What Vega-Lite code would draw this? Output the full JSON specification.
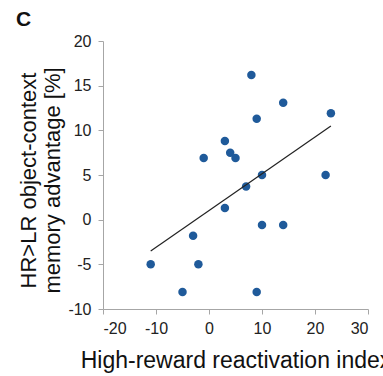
{
  "$schema": "https://vega.github.io/schema/vega-lite/v6.json",
  "width": 265,
  "height": 268,
  "autosize": {"type": "none"},
  "padding": {"left": 103, "top": 41, "right": 15, "bottom": 67},
  "background": "white",
  "title": {"text": "C", "anchor": "start", "frame": "group", "dx": -87, "offset": 3, "fontSize": 21, "fontWeight": "bold", "font": "Liberation Sans", "color": "#111111"},
  "config": {
    "view": {"stroke": null},
    "axis": {"grid": false, "domainColor": "#a6a6a6", "tickColor": "#a6a6a6", "tickSize": 5, "labelFont": "Liberation Sans", "labelFontSize": 16, "labelColor": "#222222", "titleFont": "Liberation Sans", "titleFontWeight": "normal", "titleColor": "#111111"}
  },
  "data": {"values": [
    {"x": -11, "y": -5}, {"x": -5, "y": -8.1}, {"x": -3, "y": -1.8}, {"x": -2, "y": -5},
    {"x": -1, "y": 6.9}, {"x": 3, "y": 8.8}, {"x": 3, "y": 1.3}, {"x": 4, "y": 7.5},
    {"x": 5, "y": 6.9}, {"x": 7, "y": 3.7}, {"x": 8, "y": 16.2}, {"x": 9, "y": 11.3},
    {"x": 9, "y": -8.1}, {"x": 10, "y": 5}, {"x": 10, "y": -0.6}, {"x": 14, "y": 13.1},
    {"x": 14, "y": -0.6}, {"x": 22, "y": 5}, {"x": 23, "y": 11.9}
  ]},
  "encoding": {
    "x": {"field": "x", "type": "quantitative", "scale": {"domain": [-20, 30], "nice": false, "zero": false},
      "axis": {"values": [-20, -10, 0, 10, 20, 30], "labelExpr": "datum.value + ''", "title": "High-reward reactivation index", "titleFontSize": 23, "titlePadding": 13, "labelPadding": 6}},
    "y": {"field": "y", "type": "quantitative", "scale": {"domain": [-10, 20], "nice": false, "zero": false},
      "axis": {"values": [-10, -5, 0, 5, 10, 15, 20], "labelExpr": "datum.value + ''", "title": ["HR>LR object-context", "memory advantage [%]"], "titleFontSize": 22, "titleLineHeight": 24, "titleY": 139, "titlePadding": 3, "labelPadding": 7}}
  },
  "layer": [
    {"mark": {"type": "circle", "size": 72, "color": "#1f5a9a", "opacity": 1}},
    {"transform": [{"regression": "y", "on": "x"}],
     "mark": {"type": "line", "color": "#222222", "strokeWidth": 1.2}}
  ]
}
